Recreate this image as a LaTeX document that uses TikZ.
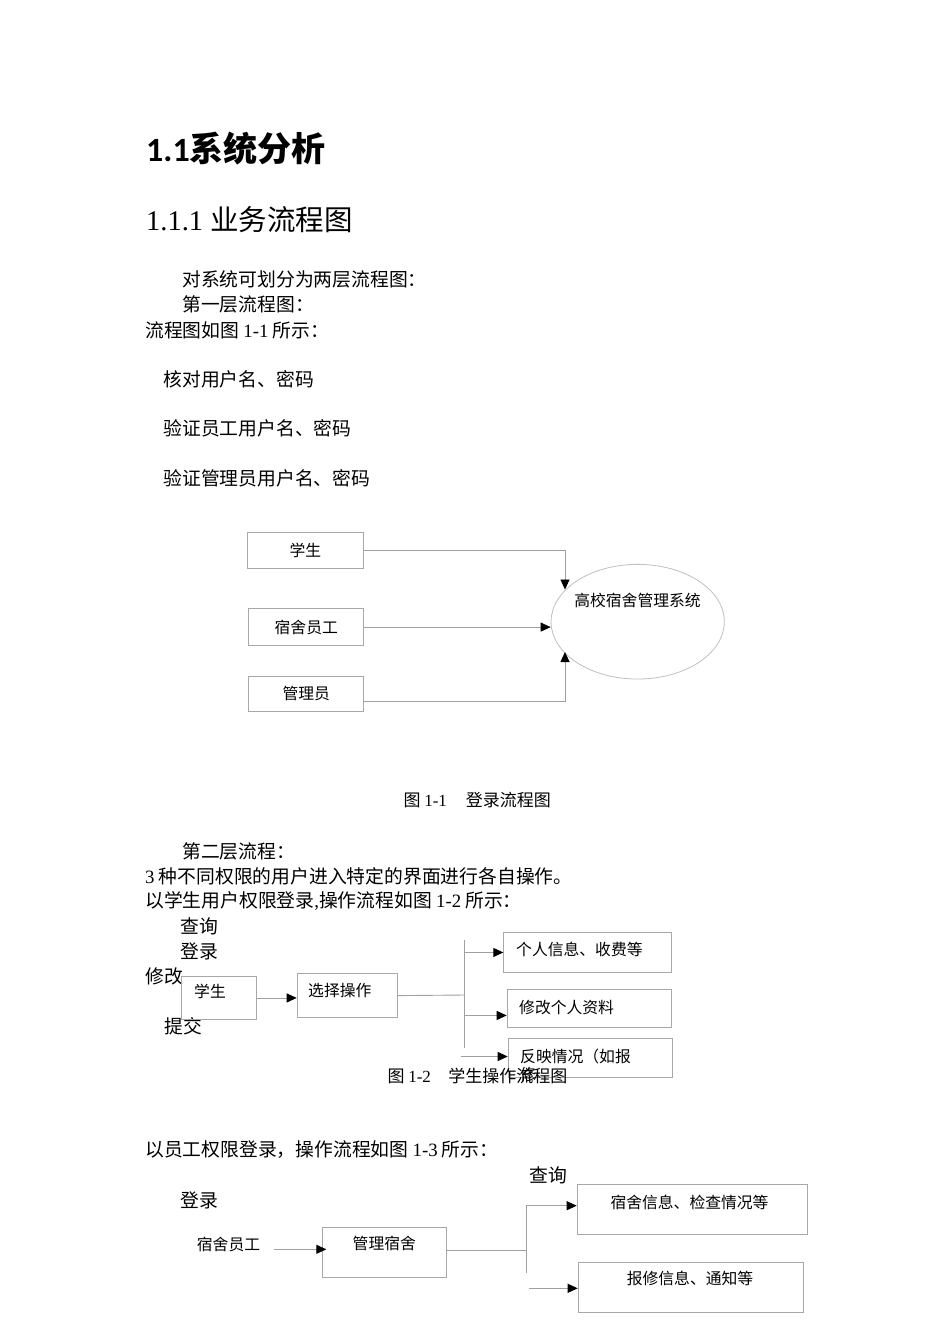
\documentclass[tikz,border=0pt]{standalone}
\usepackage{fontspec}
\setmainfont{Liberation Serif}
\newfontfamily\cjk{Noto Sans CJK SC}
\newfontfamily\headlat{Carlito}
\usetikzlibrary{arrows.meta,shapes.geometric}
\definecolor{linegray}{HTML}{A0A0A0}
\definecolor{boxgray}{HTML}{A8A8A8}
\definecolor{ovalgray}{HTML}{C0C0C0}

\begin{document}
\begin{tikzpicture}[x=1pt,y=-1pt,
  txt/.style={anchor=west,inner sep=0pt,font=\cjk\fontsize{18.8}{22}\selectfont},
  small/.style={anchor=west,inner sep=0pt,font=\cjk\fontsize{15.8}{18}\selectfont},
  caption/.style={anchor=west,inner sep=0pt,font=\cjk\fontsize{17}{20}\selectfont},
  box/.style={draw=boxgray,line width=0.9pt,inner sep=0pt,anchor=north west,font=\cjk\fontsize{15.8}{18}\selectfont},
  wire/.style={draw=linegray,line width=0.9pt},
  link/.style={wire,-{Triangle[black,length=10pt,width=9pt]}}]

\fill[white] (0,0) rectangle (950,1344);
\useasboundingbox (0,0) rectangle (950,1344);

% headings and text
\node[anchor=west,inner sep=0pt,font=\fontsize{34}{40}\selectfont\bfseries] (h1) at (146,149) {{\headlat 1.1}{\cjk 系统分析}};
\node[anchor=west,inner sep=0pt,font=\fontsize{28.5}{34}\selectfont] (h2) at (146,219.5) {1.1.1 {\cjk 业务流程图}};
\node[txt] (l1) at (182,279) {对系统可划分为两层流程图：};
\node[txt] (l2) at (182,304.7) {第一层流程图：};
\node[txt] (l3) at (145,330) {流程图如图 {\rmfamily 1-1} 所示：};
\node[txt] (chk1) at (163.3,379.3) {核对用户名、密码};
\node[txt] (chk2) at (163.3,428.3) {验证员工用户名、密码};
\node[txt] (chk3) at (163.3,478.3) {验证管理员用户名、密码};

% figure 1-1
\node[box,minimum width=115.4pt,minimum height=36pt] (stu) at (247.3,532.3) {学生};
\node[box,minimum width=115pt,minimum height=36.7pt] (staff) at (248.3,608.3) {宿舍员工};
\node[box,minimum width=115pt,minimum height=35.3pt] (adm) at (248.3,675.7) {管理员};
\node[ellipse,draw=ovalgray,line width=0.8pt,minimum width=173.3pt,minimum height=114.7pt,inner sep=0pt] (sys) at (637.7,621.7) {};
\node[small,anchor=center] (systxt) at (637.5,600) {高校宿舍管理系统};
\coordinate (inA) at (565,589.5);
\coordinate (inC) at (565,652);
\draw[link] (stu.east) -| (inA);
\draw[link] (staff.east) -- (staff.east -| sys.west);
\draw[link] ([yshift=-7.6pt]adm.east) -| (inC);
\node[caption] (cap1) at (403.3,800) {图 {\rmfamily 1-1}\hspace{19pt}登录流程图};

% second level
\node[txt] (l4) at (182,851) {第二层流程：};
\node[txt] (l5) at (145,876) {{\rmfamily 3} 种不同权限的用户进入特定的界面进行各自操作。};
\node[txt] (l6) at (145,901) {以学生用户权限登录{\rmfamily ,}操作流程如图 {\rmfamily 1-2} 所示：};
\node[txt] (query2) at (180.7,926) {查询};
\node[txt] (login2) at (180.7,951.5) {登录};
\node[txt] (edit2) at (145,976.7) {修改};
\node[txt] (submit2) at (164,1026.7) {提交};

% figure 1-2
\node[box,minimum width=74.4pt,minimum height=43pt] (stu2) at (181.3,976) {};
\node[small] (stu2txt) at (194,991.7) {学生};
\node[box,minimum width=100.6pt,minimum height=44.3pt] (sel) at (296.7,973) {};
\node[small] (seltxt) at (308,990) {选择操作};
\node[box,minimum width=167.7pt,minimum height=40.6pt] (info) at (503.3,931.7) {};
\node[small] (infotxt) at (516,949.3) {个人信息、收费等};
\node[box,minimum width=164.3pt,minimum height=37.4pt] (edit) at (506.7,989.3) {};
\node[small] (edittxt) at (519,1007.3) {修改个人资料};
\node[box,minimum width=164.6pt,minimum height=39.6pt] (report) at (507.7,1037.7) {};
\node[small] (reporttxt) at (520,1056.7) {反映情况（如报};
\node[small] (reporttxt2) at (520,1074.5) {修};
\coordinate (forkTop) at (464,940);
\coordinate (forkBot) at (464,1048.3);
\coordinate (forkIn) at (464,995);
\coordinate (editIn) at ([yshift=-7pt]edit.west);
\coordinate (feedC) at (461,1056.5);
\draw[link] (stu2.east) -- (stu2.east -| sel.west);
\draw[wire] (sel.east) -- (forkIn);
\draw[wire] (forkTop) -- (forkBot);
\draw[link] (info.west -| forkTop) -- (info.west);
\draw[link] (editIn -| forkTop) -- (editIn);
\draw[link] (feedC) -- (feedC -| report.west);
\node[caption] (cap2) at (387.3,1075.7) {图 {\rmfamily 1-2}\hspace{17.5pt}学生操作流程图};

% figure 1-3
\node[txt] (l7) at (145,1150) {以员工权限登录，操作流程如图 {\rmfamily 1-3} 所示：};
\node[txt] (query3) at (529,1175) {查询};
\node[txt] (login3) at (180.7,1200.7) {登录};
\node[small] (staff3) at (196.7,1244) {宿舍员工};
\node[box,minimum width=123.4pt,minimum height=50pt] (mgr) at (322.3,1227.3) {};
\node[small,anchor=center] (mgrtxt) at (384.3,1243.3) {管理宿舍};
\node[box,minimum width=230pt,minimum height=49.7pt] (dorm) at (576.7,1184.3) {};
\node[small,anchor=center] (dormtxt) at (689.5,1202.7) {宿舍信息、检查情况等};
\node[box,minimum width=225pt,minimum height=50pt] (repair) at (577.7,1262.3) {};
\node[small,anchor=center] (repairtxt) at (690,1278.3) {报修信息、通知等};
\coordinate (staffOut) at (274,1249.3);
\coordinate (fork3Top) at (526,1205.7);
\coordinate (fork3Bot) at (526,1273.3);
\coordinate (fork3In) at (526,1250);
\coordinate (feed3) at (529.3,1288.3);
\draw[link] (staffOut) -- ([xshift=4pt]staffOut -| mgr.west);
\draw[wire] (mgr.east |- fork3In) -- (fork3In);
\draw[wire] (fork3Top) -- (fork3Bot);
\draw[link] (fork3Top) -- (fork3Top -| dorm.west);
\draw[link] (feed3) -- (feed3 -| repair.west);
\end{tikzpicture}
\end{document}
